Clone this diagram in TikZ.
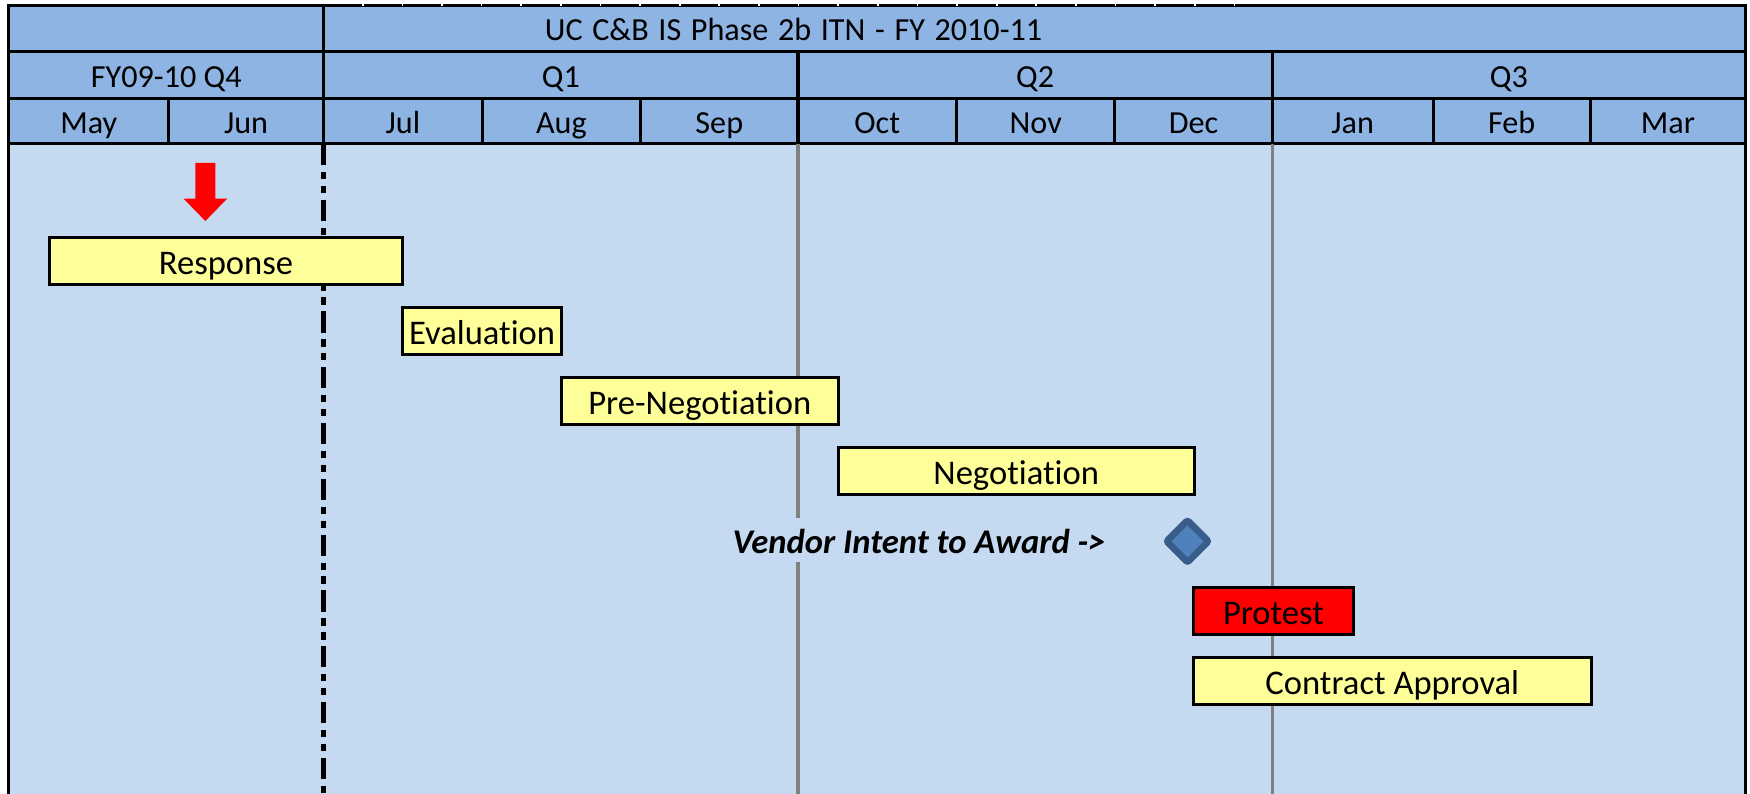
\documentclass[tikz,border=0pt]{standalone}
\usepackage{fontspec}
\setmainfont[Ligatures=NoCommon]{Carlito}
\usetikzlibrary{shapes.geometric}
\definecolor{headblue}{HTML}{8DB4E2}
\definecolor{bodyblue}{HTML}{C5D9F1}
\definecolor{taskyellow}{HTML}{FFFF99}
\definecolor{markfill}{HTML}{4F81BD}
\definecolor{markline}{HTML}{385D8A}
\definecolor{gridgray}{HTML}{808080}
\tikzset{
	hfont/.style={font=\fontsize{28.8}{34}\selectfont, text height=26.8pt, text depth=5.2pt},
	hcell/.style={hfont, draw=black, line width=2.7pt, fill=headblue, inner sep=0pt},
	tfont/.style={font=\fontsize{31}{37}\selectfont, text height=29.5pt, text depth=5.6pt},
	task/.style={tfont, draw=black, line width=2.7pt, fill=taskyellow, inner sep=0pt, minimum height=42.5pt},
}
\begin{document}
\begin{tikzpicture}[x=1pt, y=-1pt]
	\useasboundingbox (0,0) rectangle (1568,711);
	% Body
	\fill [bodyblue] (8,129) rectangle (1564,711);
	\draw [line width=2.7pt, black] (8,129) -- (8,711);
	\draw [line width=2.7pt, black] (1564,129) -- (1564,711);
	% Title row
	\node [hcell, minimum width=282, minimum height=41.2] (corner) at (149,25.7) {};
	\node [hcell, minimum width=1274, minimum height=41.2] (title) at (927,25.7) {};
	\node [hfont, inner sep=0pt] (titletext) at (711,25.7) {\spaceskip=0.3em UC C\&B IS Phase 2b ITN - FY 2010-11};
	\foreach \k in {0, ..., 22} {
		\draw [white, line width=1.5pt] ({325+35.5*\k},3.2) -- ({325+35.5*\k},5.2);
	}
	% Quarters
	\foreach \a/\b/\t [count=\i] in {8/290/FY09-10 Q4, 290/715/Q1, 715/1140/Q2, 1140/1564/Q3} {
		\node [hcell, minimum width={\b-\a}, minimum height=41.7] (q\i) at ({(\a+\b)/2},67.2) {\t};
	}
	% Months
	\foreach \a/\b/\t [count=\i] in {8/151/May, 151/290/Jun, 290/432/Jul, 432/574/Aug, 574/715/Sep, 715/857/Oct, 857/999/Nov, 999/1140/Dec, 1140/1284/Jan, 1284/1425/Feb, 1425/1564/Mar} {
		\node [hcell, minimum width={\b-\a}, minimum height=41] (m\i) at ({(\a+\b)/2},108.5) {\t};
	}
	% Today and quarter lines
	\draw [line width=4.5pt, black, dash pattern=on 19pt off 6pt on 6.5pt off 6pt on 6.5pt off 6pt] (290,129) -- (290,711);
	\draw [line width=2.7pt, gridgray] (715,129) -- (715,711);
	\draw [line width=2.7pt, gridgray] (1140,129) -- (1140,711);
	% Red arrow
	\fill [red] (175,146) -- (193,146) -- (193,178) -- (203.5,178) -- (184,198) -- (164.5,178) -- (175,178) -- cycle;
	% Tasks
	\node [task, minimum width=317] (response) at (202.5,234) {Response};
	\node [task, minimum width=142] (evaluation) at (432,296.7) {Evaluation};
	\node [task, minimum width=248] (prenego) at (627,359.4) {Pre-Negotiation};
	\node [task, minimum width=319] (nego) at (910.5,422) {Negotiation};
	\node [tfont, fill=bodyblue, inner sep=0pt, minimum height=39pt, font=\fontsize{31}{37}\selectfont\bfseries\itshape] (intent) at (823.5,484) {Vendor Intent to Award ->};
	\node [diamond, aspect=1, draw=markline, fill=markfill, line width=6pt, rounded corners=2pt, minimum width=40pt, minimum height=40pt, inner sep=0pt] (award) at (1064,485) {};
	\node [task, fill=red, minimum width=144] (protest) at (1141,547.3) {Protest};
	\node [task, minimum width=357] (approval) at (1247.5,610) {Contract Approval};
\end{tikzpicture}
\end{document}
